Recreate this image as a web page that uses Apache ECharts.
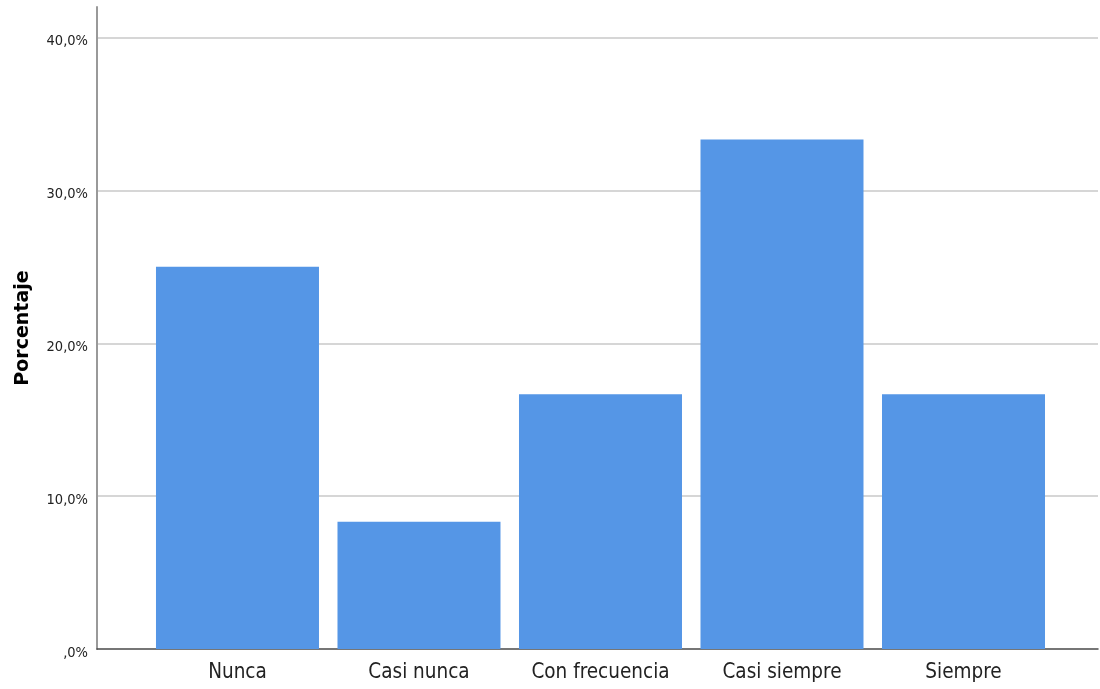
<!DOCTYPE html>
<html>
<head>
<meta charset="utf-8">
<script src="https://cdn.jsdelivr.net/npm/echarts@6/dist/echarts.min.js"></script>
<style>
html,body{margin:0;padding:0;background:#fff;}
#chart{width:1100px;height:689px;}
</style>
</head>
<body>
<div id="chart"></div>
<script>
const categories = ['Nunca', 'Casi nunca', 'Con frecuencia', 'Casi siempre', 'Siempre'];
const percentages = [25.0, 8.33, 16.67, 33.33, 16.67];
const yTicks = [0, 10, 20, 30, 40];
const yAxisTitle = 'Porcentaje';

const narrow = "'Liberation Sans Narrow', 'DejaVu Sans Condensed', 'Liberation Sans', sans-serif";
const positions = categories.map((c, i) => i);

const chart = echarts.init(document.getElementById('chart'), null, {renderer: 'canvas'});
chart.setOption({
  animation: false,
  backgroundColor: '#ffffff',
  grid: {left: 97, right: 2, top: 7, bottom: 40, containLabel: false},
  xAxis: {
    type: 'value',
    min: -0.774,
    max: 4.741,
    splitLine: {show: false},
    axisTick: {show: false},
    axisLine: {show: true, onZero: false, lineStyle: {color: '#4a4a4a', width: 1.5}},
    axisLabel: {
      customValues: positions,
      formatter: v => categories[Math.round(v)],
      fontFamily: narrow,
      fontSize: 20.5,
      color: '#222',
      margin: 13
    }
  },
  yAxis: {
    type: 'value',
    min: 0,
    max: 42,
    interval: 10,
    name: yAxisTitle,
    nameLocation: 'middle',
    nameGap: 64,
    nameRotate: 90,
    nameTextStyle: {fontFamily: "'DejaVu Sans', sans-serif", fontWeight: 'bold', fontSize: 19, color: '#000'},
    axisLine: {show: true, onZero: false, lineStyle: {color: '#999', width: 2}},
    axisTick: {show: false},
    splitLine: {show: true, showMaxLine: false, showMinLine: false, lineStyle: {color: '#c8c8c8', width: 1.5}},
    axisLabel: {
      customValues: yTicks,
      formatter: v => (v === 0 ? ',0%' : v.toFixed(1).replace('.', ',') + '%'),
      fontFamily: narrow,
      fontSize: 14.5,
      color: '#222',
      margin: 9,
      verticalAlign: 'top',
      lineHeight: 8
    }
  },
  series: [{
    type: 'bar',
    barWidth: 163,
    data: percentages.map((v, i) => [positions[i], v]),
    itemStyle: {color: '#5596e6'}
  }]
});
</script>
</body>
</html>
